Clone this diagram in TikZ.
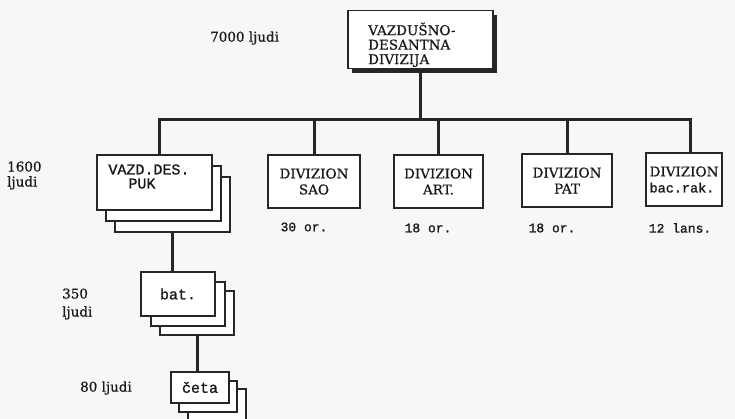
\documentclass[tikz,border=0pt]{standalone}
\usepackage{fontspec}
\setmainfont[FakeBold=0.6]{DejaVu Serif}
\newfontfamily\typefont[FakeBold=1.2]{Liberation Mono}
\usetikzlibrary{positioning}

\newcommand\serifsize{\fontsize{13.5}{15}\selectfont}
\newcommand\unitfont{\typefont\fontsize{15}{14}\selectfont}

\begin{document}
\begin{tikzpicture}[
    x=1pt, y=-1pt,
    every node/.style={inner sep=0pt, text=black!90},
    unitbox/.style={draw=black!85, fill=white, line width=1.5pt},
    divbox/.style={unitbox, minimum height=53pt, align=center,
        font=\fontsize{13.5}{16}\selectfont},
    link/.style={draw=black!85, line width=3pt},
    count/.style={font=\serifsize, align=left, anchor=west},
    strength/.style={font=\typefont\fontsize{13}{14}\selectfont},
]
\useasboundingbox[fill=black!3] (0,0) rectangle (735,419);

% division with its shadow
\fill[black!85] (352,15) rectangle (497,73);
\node[unitbox, minimum width=145pt, minimum height=58pt, anchor=north west] (div) at (347,10) {};
\node[font=\fontsize{13.5}{14.5}\selectfont, align=left, anchor=west] (divname)
    at ([xshift=21pt, yshift=-5pt]div.west) {VAZDUŠNO-\\DESANTNA\\DIVIZIJA};

% stacked units
\foreach \n/\dx/\dy in {3/18/22, 2/9/11}
    \node[unitbox, minimum width=115pt, minimum height=55pt] (puk\n) at (154.5+\dx,182.5+\dy) {};
\node[unitbox, minimum width=115pt, minimum height=55pt] (puk) at (154.5,182.5) {};
\node[font=\unitfont, align=left, anchor=west] (pukname)
    at ([xshift=12pt, yshift=6pt]puk.west) {VAZD.DES.\\\hspace*{20pt}PUK};

\foreach \n/\dx/\dy in {3/19/19, 2/10/10}
    \node[unitbox, minimum width=74pt, minimum height=44pt] (bat\n) at (178+\dx,294+\dy) {};
\node[unitbox, minimum width=74pt, minimum height=44pt, font=\unitfont] (bat) at (178,294) {bat.};

\foreach \n/\dx/\dy in {3/17/17, 2/8/9}
    \node[unitbox, minimum width=58pt, minimum height=31pt] (ceta\n) at (200+\dx,387.5+\dy) {};
\node[unitbox, minimum width=58pt, minimum height=31pt, font=\unitfont] (ceta) at (200,387.5) {četa};

% divizioni
\node[divbox, minimum width=92pt] (sao) at (314,181.5) {DIVIZION\\SAO};
\node[divbox, minimum width=89pt] (art) at (438.5,181.5) {DIVIZION\\ART.};
\node[divbox, minimum width=90pt] (pat) at (567,180.5) {DIVIZION\\PAT};
\node[divbox, minimum width=76pt, align=left] (bac) at (684,179.5) {DIVIZION\\{\typefont bac.rak.}};

\node[strength] (sao-n) at (304,227) {30 or.};
\node[strength] (art-n) at (428,228) {18 or.};
\node[strength] (pat-n) at (552,228) {18 or.};
\node[strength] (bac-n) at (680,228) {12 lans.};

% connectors
\coordinate (bus) at (0,120);
\draw[link] (div.south) -- (div.south |- bus);
\draw[link] ([xshift=5pt]puk.north) |- (div.south |- bus) -| ([xshift=6pt]bac.north);
\foreach \c in {sao,art,pat}
    \draw[link] (\c.north) -- (\c.north |- bus);
\draw[link] (puk3.south) -- (puk3.south |- bat.north);
\draw[link] (bat3.south) -- (bat3.south |- ceta.north);

% strengths
\node[count] (n7000) at (210,38) {7000 ljudi};
\node[count] (n1600) at (7,175.5) {1600\\ljudi};
\node[count, font=\fontsize{13.5}{18}\selectfont] (n350) at (62,304) {350\\ljudi};
\node[count] (n80) at (80,388) {80 ljudi};
\end{tikzpicture}
\end{document}
